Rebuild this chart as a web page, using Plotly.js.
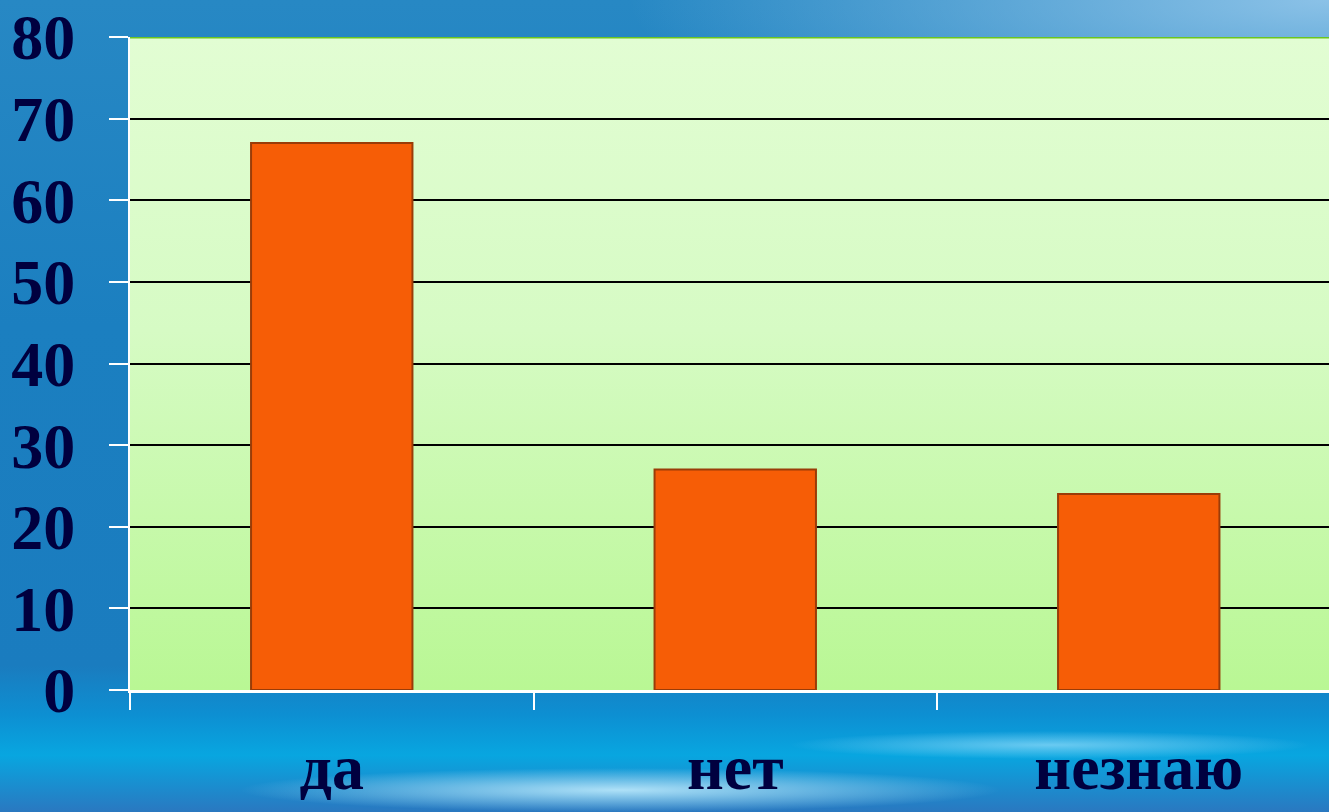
<!DOCTYPE html>
<html>
<head>
<meta charset="utf-8">
<script src="https://cdn.plot.ly/plotly-3.0.1.min.js"></script>
<style>
  html, body { margin: 0; padding: 0; width: 1329px; height: 812px; overflow: hidden; }
  #chart {
    width: 1329px; height: 812px;
    background:
      linear-gradient(to bottom, #e2fdd3 0%, #d6fbc4 45%, #b9f794 100%) 130px 37px / 1199px 653px no-repeat,
      radial-gradient(ellipse 380px 22px at 620px 790px, rgba(200,240,255,0.85), rgba(120,210,250,0) 100%),
      radial-gradient(ellipse 260px 14px at 1050px 745px, rgba(170,230,255,0.6), rgba(120,210,250,0) 100%),
      radial-gradient(ellipse 700px 160px at 1329px 0px, rgba(150,200,235,0.9), rgba(150,200,235,0) 100%),
      linear-gradient(to bottom, #2788c4 0%, #1b7fc0 40%, #1a7cbf 82%, #0d8fd2 88%, #08a6e0 93%, #2a78c0 100%);
  }
</style>
</head>
<body>
<div id="chart"></div>
<script>
const categories = ["да", "нет", "незнаю"];
const values = [67, 27, 24];
const yTicks = [0, 10, 20, 30, 40, 50, 60, 70, 80];

const labelFont = { family: "Liberation Serif, Times New Roman, serif", size: 64, color: "#00003f", weight: "bold" };

const trace = {
  type: "bar",
  x: categories,
  y: values,
  width: 0.4,
  marker: { color: "#f65d06", line: { color: "#9a3c08", width: 2 } },
  hoverinfo: "x+y"
};

const layout = {
  width: 1329,
  height: 812,
  margin: { l: 130, r: 0, t: 37, b: 122, pad: 0 },
  paper_bgcolor: "rgba(0,0,0,0)",
  plot_bgcolor: "rgba(0,0,0,0)",
  showlegend: false,
  bargap: 0.6,
  xaxis: {
    type: "category",
    range: [-0.5, 2.4715],
    tickson: "boundaries",
    ticks: "outside",
    ticklen: 17,
    tickwidth: 2,
    tickcolor: "#ffffff",
    showline: true,
    linecolor: "#ffffff",
    linewidth: 3,
    showgrid: false,
    zeroline: false,
    tickfont: labelFont,
    ticklabelstandoff: 19,
    automargin: false,
    fixedrange: true
  },
  yaxis: {
    range: [0, 80],
    tickmode: "array",
    tickvals: yTicks,
    ticktext: yTicks.map(String),
    ticks: "outside",
    ticklen: 19,
    tickwidth: 2,
    tickcolor: "#ffffff",
    showline: true,
    linecolor: "#ffffff",
    linewidth: 2,
    showgrid: true,
    gridcolor: "#000000",
    gridwidth: 2,
    zeroline: false,
    tickfont: labelFont,
    ticklabelstandoff: 21,
    automargin: false,
    fixedrange: true
  },
  shapes: [
    { type: "line", xref: "paper", yref: "y", x0: 0, x1: 1, y0: 80, y1: 80, line: { color: "#6cc520", width: 3 } }
  ]
};

Plotly.newPlot("chart", [trace], layout, { displayModeBar: false, staticPlot: true });
</script>
</body>
</html>
